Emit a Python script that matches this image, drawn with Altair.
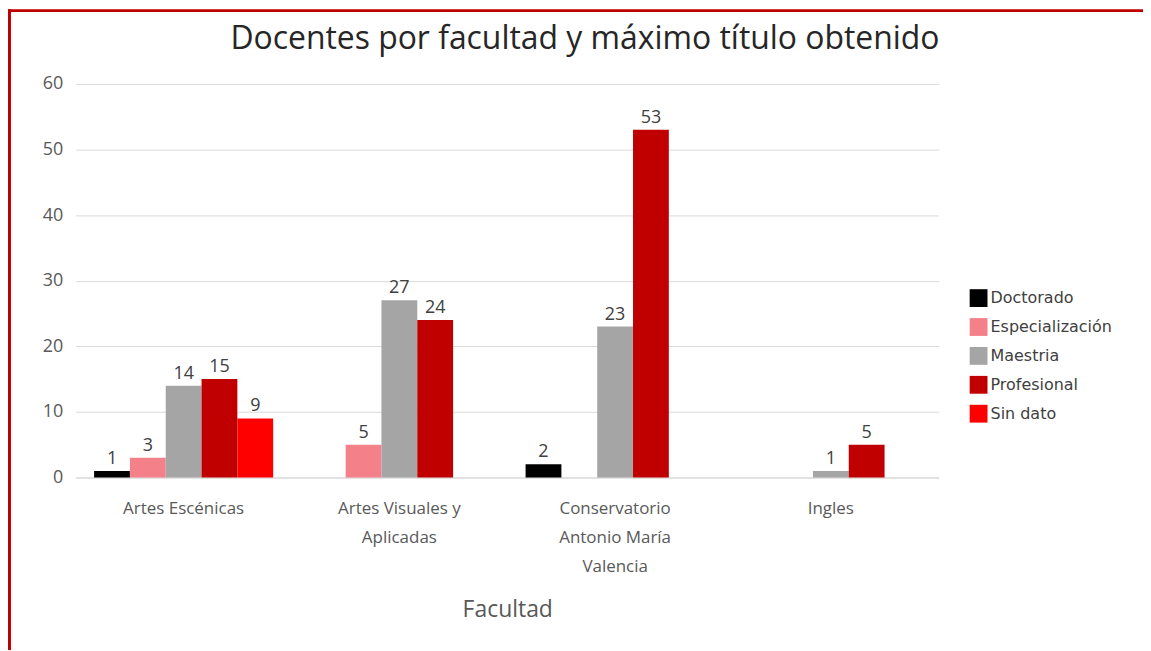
import altair as alt
import pandas as pd

facultades = ["Artes Escénicas", "Artes Visuales y Aplicadas",
              "Conservatorio Antonio María Valencia", "Ingles"]
etiquetas = [["Artes Escénicas"], ["Artes Visuales y", "Aplicadas"],
             ["Conservatorio", "Antonio María", "Valencia"], ["Ingles"]]
series = ["Doctorado", "Especialización", "Maestria", "Profesional", "Sin dato"]
doctorado = [1, None, 2, None]
especializacion = [3, 5, None, None]
maestria = [14, 27, 23, 1]
profesional = [15, 24, 53, 5]
sin_dato = [9, None, None, None]
colores = ["#000000", "#F4808A", "#A5A5A5", "#C00000", "#FF0000"]
titulo = "Docentes por facultad y máximo título obtenido"

rows = []
for s, vals in zip(series, [doctorado, especializacion, maestria, profesional, sin_dato]):
    for f, v in zip(facultades, vals):
        if v is not None:
            rows.append({"Facultad": f, "Titulo": s, "Docentes": v})
df = pd.DataFrame(rows)

expr = ""
for f, lines in zip(facultades, etiquetas):
    arr = "[" + ",".join("'" + l + "'" for l in lines) + "]"
    expr += f"datum.label == '{f}' ? {arr} : "
expr += "datum.label"

FONT = "Open Sans"
W, H = 866, 395

x = alt.X("Facultad:N", sort=facultades,
          scale=alt.Scale(paddingInner=0.17, paddingOuter=0.085),
          axis=alt.Axis(title="Facultad", labelAngle=0, labelExpr=expr,
                        labelFontSize=17, labelColor="#595959", labelPadding=23,
                        labelLineHeight=29, ticks=False, domainColor="#D9D9D9",
                        titleFontSize=23, titleFontWeight="normal", titleColor="#595959",
                        titlePadding=25, labelFont=FONT, titleFont=FONT))
xo = alt.XOffset("Titulo:N", sort=series, scale=alt.Scale(domain=series, paddingInner=0))
y = alt.Y("Docentes:Q", scale=alt.Scale(domain=[0, 60]),
          axis=alt.Axis(title=None, values=[0, 10, 20, 30, 40, 50, 60], domain=False,
                        ticks=False, labelFontSize=18, labelColor="#595959",
                        labelPadding=13, gridColor="#D9D9D9", labelFont=FONT))

bars = alt.Chart(df).mark_bar().encode(
    x=x, xOffset=xo, y=y,
    color=alt.Color("Titulo:N", sort=series,
                    scale=alt.Scale(domain=series, range=colores),
                    legend=alt.Legend(title=None, orient="none", legendX=897, legendY=206,
                                      symbolType="square", symbolSize=320,
                                      symbolStrokeWidth=0, labelFontSize=16,
                                      labelColor="#404040", rowPadding=11,
                                      labelFont="DejaVu Sans", labelOffset=3)),
)
text = alt.Chart(df).mark_text(baseline="bottom", dy=-3, fontSize=18,
                                color="#404040", font=FONT).encode(
    x=alt.X("Facultad:N", sort=facultades), xOffset=xo, y="Docentes:Q",
    text="Docentes:Q")

title_mark = alt.Chart(pd.DataFrame({"t": [titulo]})).mark_text(
    fontSize=32, font=FONT, color="#262626", baseline="middle", align="center").encode(
    x=alt.value(W / 2 + 78), y=alt.value(-45), text="t:N")

border_left = alt.Chart(pd.DataFrame({"a": [0]})).mark_rule(
    color="#C00000", strokeWidth=3).encode(
    x=alt.value(-66.5), y=alt.value(-75), y2=alt.value(H + 200))
border_top = alt.Chart(pd.DataFrame({"a": [0]})).mark_rule(
    color="#C00000", strokeWidth=3).encode(
    x=alt.value(-68), x2=alt.value(W + 300), y=alt.value(-73.5))

chart = alt.layer(bars, text, title_mark, border_left, border_top).properties(
    width=W, height=H,
    padding={"left": 68, "top": 75, "right": 205, "bottom": 172},
    autosize=alt.AutoSizeParams(type="none"),
).configure(background="white").configure_view(stroke=None)

chart.save("out.html", embed_options={"renderer": "svg", "actions": False})
